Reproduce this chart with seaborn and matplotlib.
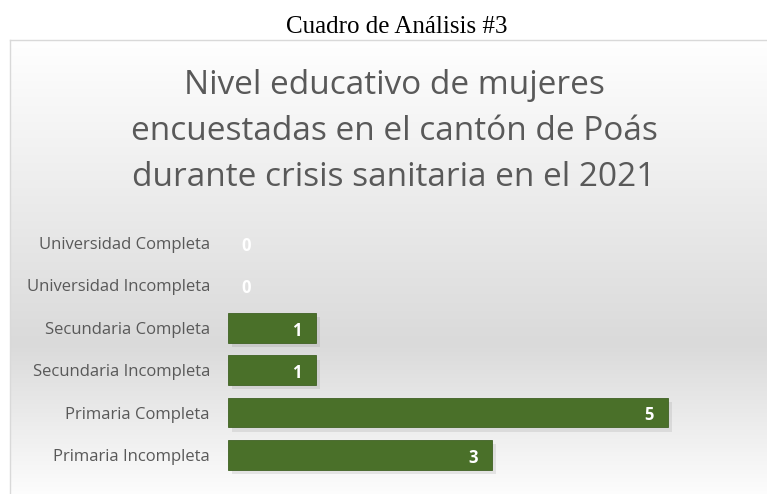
import numpy as np
import pandas as pd
import matplotlib
matplotlib.use("Agg")
import matplotlib.pyplot as plt
import matplotlib.patheffects as pe
import seaborn as sns

# data
niveles = ["Universidad Completa", "Universidad Incompleta", "Secundaria Completa",
           "Secundaria Incompleta", "Primaria Completa", "Primaria Incompleta"]
cantidad = [0, 0, 1, 1, 5, 3]

titulo = "Nivel educativo de mujeres\nencuestadas en el cantón de Poás\ndurante crisis sanitaria en el 2021"
cuadro = "Cuadro de Análisis #3"

df = pd.DataFrame({"nivel": niveles, "cantidad": cantidad})

sns.set_theme(style="white")
plt.rcParams["font.family"] = ["Open Sans", "DejaVu Sans"]

W, H = 767, 494
fig = plt.figure(figsize=(W / 100, H / 100), dpi=100)
fig.patch.set_facecolor("white")

# chart area background: white -> gray -> white
bg = fig.add_axes([10 / W, 0, 1 - 10 / W, (H - 40) / H], zorder=0)
ys = np.linspace(0, 1, 300)
top_c, mid_c, bot_c = 1.0, 0.855, 0.99
grad = np.where(ys < 0.67, top_c + (mid_c - top_c) * (ys / 0.67),
                mid_c + (bot_c - mid_c) * ((ys - 0.67) / 0.33))
img = np.repeat(grad[:, None], 2, axis=1)
img = np.dstack([img, img, img])
bg.imshow(img, aspect="auto", extent=[0, 1, 1, 0])
bg.set_xlim(0, 1)
bg.set_ylim(1, 0)
bg.set_xticks([])
bg.set_yticks([])
for s in ["right", "bottom"]:
    bg.spines[s].set_visible(False)
for s in ["left", "top"]:
    bg.spines[s].set_color("#d9d9d9")
    bg.spines[s].set_linewidth(1)

# bar axes
left, right = 228, 756
top, bottom = 221.8, 476.2
ax = fig.add_axes([left / W, (H - bottom) / H, (right - left) / W, (bottom - top) / H], zorder=2)
ax.patch.set_alpha(0)

sns.barplot(data=df, x="cantidad", y="nivel", orient="h", order=niveles,
            color="#4A7029", saturation=1, width=0.7, ax=ax)

for p in ax.patches:
    if p.get_width() == 0:
        p.set_visible(False)
        continue
    p.set_edgecolor("#3f6123")
    p.set_linewidth(0.6)
    p.set_path_effects([pe.SimplePatchShadow(offset=(3, -3), alpha=0.12, shadow_rgbFace="#555555"),
                        pe.Normal()])

ax.set_xlim(0, 6)
ax.set_ylim(5.5, -0.5)
ax.set_xlabel("")
ax.set_ylabel("")
ax.set_xticks([])
ax.tick_params(axis="y", length=0, pad=13, labelsize=12, labelcolor="#595959")
sns.despine(ax=ax, left=True, bottom=True)

for i, v in enumerate(cantidad):
    off = -19 * 0.72 if v > 0 else 18 * 0.72
    ax.annotate(str(v), xy=(v, i), xytext=(off, -2), textcoords="offset points",
                ha="center", va="center", color="white", fontsize=12, fontweight="bold")

fig.text(394 / W, 1 - 131 / H, titulo, ha="center", va="center", fontsize=24,
         color="#595959", linespacing=1.52)
fig.text(397 / W, 1 - 27 / H, cuadro, ha="center", va="center", fontsize=18,
         family="Liberation Serif", color="black")

fig.savefig("out.png", dpi=100)
